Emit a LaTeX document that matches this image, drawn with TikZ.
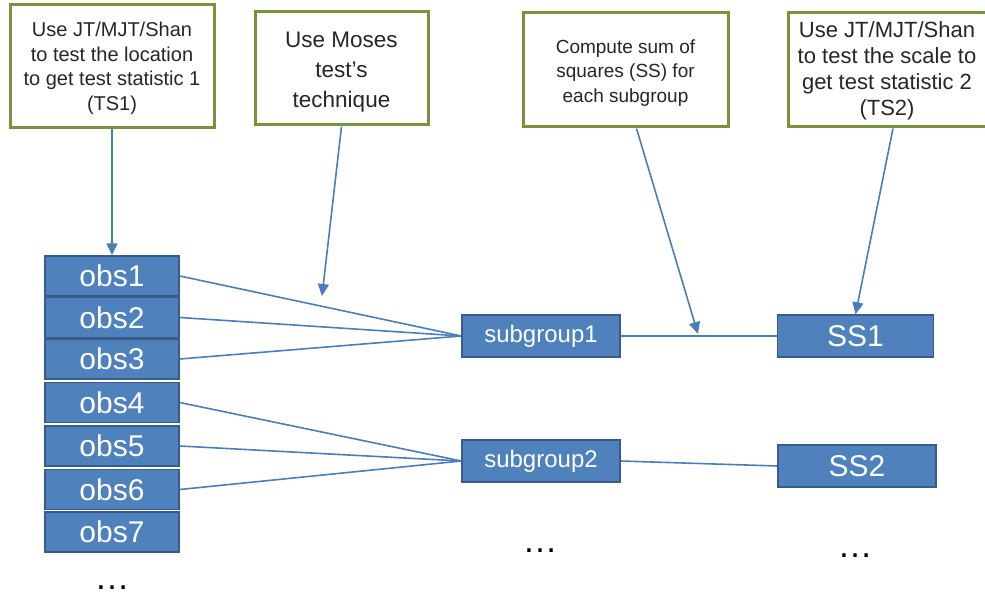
\documentclass[tikz,border=0pt]{standalone}
\usepackage{fontspec}
\setmainfont{Liberation Sans}
\usetikzlibrary{arrows.meta}
\definecolor{boxgreen}{HTML}{77933C}
\definecolor{blfill}{HTML}{4F81BD}
\definecolor{bledge}{HTML}{385D8A}
\definecolor{conn}{HTML}{4A7EBB}
\definecolor{txt}{HTML}{262626}
\begin{document}
\begin{tikzpicture}[x=1pt,y=-1pt,
  notebox/.style={draw=boxgreen,line width=3pt,fill=white,align=center,text=txt,inner sep=2pt},
  notetext/.style={align=center,text=txt,inner sep=0pt},
  bluebox/.style={draw=bledge,line width=1.5pt,fill=blfill,text=white,inner sep=0pt},
  obsbox/.style={bluebox,minimum width=134pt,minimum height=40pt,font=\fontsize{30}{32}\selectfont},
  subbox/.style={bluebox,minimum width=158pt,minimum height=42pt,font=\fontsize{24}{28}\selectfont},
  ssbox/.style={bluebox,minimum width=156pt,minimum height=42pt,font=\fontsize{30}{34}\selectfont},
  conline/.style={draw=conn,line width=1.6pt},
  conarrow/.style={conline,-{Triangle[length=12pt,width=11pt]}},
  dots/.style={font=\fontsize{35}{35}\selectfont,inner sep=0pt}]
\useasboundingbox (0,0) rectangle (985,596);
\clip (0,0) rectangle (985,596);
% top notes
\node[notebox,minimum width=204pt,minimum height=123pt] (b1) at (112,66.5) {};
\node[notetext,font=\fontsize{20}{24.5}\selectfont] (t1) at ([yshift=-2pt]b1.center)
  {Use JT/MJT/Shan\\to test the location\\to get test statistic 1\\(TS1)};
\node[notebox,minimum width=173pt,minimum height=113pt] (b2) at (341.5,68.5) {};
\node[notetext,font=\fontsize{22.5}{30}\selectfont] (t2) at ([yshift=-4pt]b2.center)
  {Use Moses\\test’s\\technique};
\node[notebox,minimum width=205pt,minimum height=114pt] (b3) at (625.5,70) {};
\node[notetext,font=\fontsize{19}{24.5}\selectfont] (t3) at ([yshift=-3pt]b3.center)
  {Compute sum of\\squares (SS) for\\each subgroup};
\node[notebox,minimum width=198pt,minimum height=114pt] (b4) at (887,70) {};
\node[notetext,font=\fontsize{22}{26}\selectfont] (t4) at ([yshift=-1pt]b4.center)
  {Use JT/MJT/Shan\\to test the scale to\\get test statistic 2\\(TS2)};
% obs stack
\node[obsbox] (o1) at (112,276) {obs1};
\node[obsbox] (o2) at (112,317.5) {obs2};
\node[obsbox] (o3) at (112,359) {obs3};
\node[obsbox] (o4) at (112,402.5) {obs4};
\node[obsbox] (o5) at (112,446) {obs5};
\node[obsbox] (o6) at (112,489.5) {obs6};
\node[obsbox] (o7) at (112,532) {obs7};
% subgroups and SS
\node[subbox] (s1) at (541,336) {subgroup1};
\node[subbox] (s2) at (541,461) {subgroup2};
\node[ssbox] (ss1) at (855.5,336) {SS1};
\node[ssbox,minimum width=158pt] (ss2) at (857,466) {SS2};
% dots
\node[dots] (d1) at (112,588) {…};
\node[dots] (d2) at (540,551) {…};
\node[dots] (d3) at (855,556) {…};
% connectors
\draw[conline] (o1.east) -- (s1.west);
\draw[conline] (o2.east) -- (s1.west);
\draw[conline] (o3.east) -- (s1.west);
\draw[conline] (o4.east) -- (s2.west);
\draw[conline] (o5.east) -- (s2.west);
\draw[conline] (o6.east) -- (s2.west);
\draw[conline] (s1.east) -- (ss1.west);
\draw[conline] (s2.east) -- (ss2.west);
% arrows
\coordinate (mA) at (322,296);
\coordinate (mB) at (698,334);
\draw[conarrow] (b1.south) -- (o1.north);
\draw[conarrow] (b2.south) -- (mA);
\draw[conarrow] ([xshift=11pt]b3.south) -- (mB);
\draw[conarrow] ([xshift=6pt]b4.south) -- (ss1.north);
\end{tikzpicture}
\end{document}
